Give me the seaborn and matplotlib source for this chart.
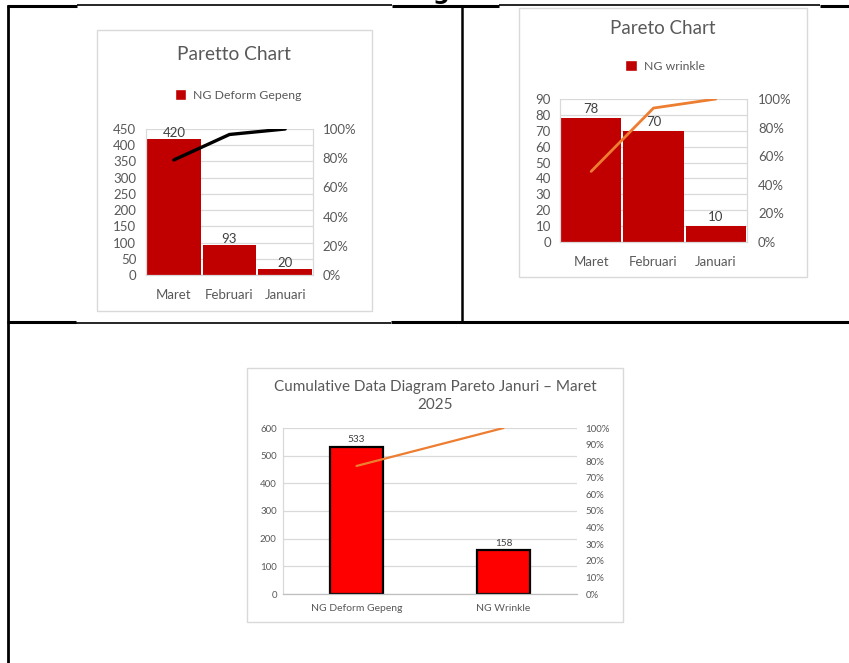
import numpy as np
import pandas as pd
import matplotlib
matplotlib.use("Agg")
import matplotlib.pyplot as plt
import seaborn as sns
from matplotlib.patches import Rectangle, Patch
from matplotlib.lines import Line2D
from matplotlib.ticker import PercentFormatter

# ---------------- data ----------------
months = ["Maret", "Februari", "Januari"]
deform_counts = [420, 93, 20]
wrinkle_counts = [78, 70, 10]
defect_types = ["NG Deform Gepeng", "NG Wrinkle"]
defect_totals = [533, 158]

title1 = "Paretto Chart"
title2 = "Pareto Chart"
title3 = "Cumulative Data Diagram Pareto Januri – Maret\n2025"
legend1 = "NG Deform Gepeng"
legend2 = "NG wrinkle"

# ---------------- setup ----------------
W, H = 849, 663
sns.set_theme(style="white")
plt.rcParams["font.family"] = ["Lato", "DejaVu Sans"]
TXT = "#595959"
GRID = "#D9D9D9"

fig = plt.figure(figsize=(W / 100, H / 100), dpi=100)
fig.patch.set_facecolor("white")


def fx(x):
    return x / W


def fy(y):
    return 1 - y / H


def px_axes(l, t, r, b):
    return fig.add_axes([fx(l), fy(b), (r - l) / W, (b - t) / H])


def line(x0, y0, x1, y1, lw):
    fig.add_artist(Line2D([fx(x0), fx(x1)], [fy(y0), fy(y1)], color="black", lw=lw,
                          transform=fig.transFigure, solid_capstyle="butt", zorder=-1))


def box(l, t, r, b):
    fig.add_artist(Rectangle((fx(l), fy(b)), (r - l) / W, (b - t) / H, transform=fig.transFigure,
                             facecolor="white", edgecolor=GRID, lw=1.0, zorder=-2))


# ---------------- table lines ----------------
# top border
line(7, 6, 77, 6, 2.2)
line(77, 5, 392, 5, 1.2)
line(392, 6, 499, 6, 2.2)
line(499, 5, 820, 5, 1.2)
line(820, 6, 849, 6, 2.2)
# middle horizontal
line(7, 322, 76, 322, 2.2)
line(76, 323, 391, 323, 1.2)
line(391, 322, 849, 322, 2.2)
# verticals
line(8, 5, 8, 663, 2.0)
line(462, 5, 462, 322, 1.8)

# cut-off heading glyph at the very top (only its descender shows, as in the reference)
fig.text(fx(433), fy(-1), "g", fontsize=17, fontweight="bold", color="black",
         ha="left", va="baseline", family=["DejaVu Sans"])


def pareto(ax, cats, vals, bar_color, line_color, line_w, ymax, ystep, pct_step,
           bar_width, tick_fs, label_fs, lpad, rpad, xpad, label_pad,
           edgecolor=None, edge_w=0.0, right_spine=True, xtick_fs=None):
    df = pd.DataFrame({"cat": cats, "val": vals})
    sns.barplot(data=df, x="cat", y="val", color=bar_color, saturation=1,
                width=bar_width, edgecolor=edgecolor if edgecolor else bar_color,
                linewidth=edge_w, ax=ax, zorder=2)
    ax.set_axisbelow(True)
    ax.set_ylim(0, ymax)
    ax.set_yticks(np.arange(0, ymax + 1, ystep))
    ax.set_xlim(-0.5, len(cats) - 0.5)
    ax.grid(axis="y", color=GRID, lw=0.9)
    ax.grid(axis="x", visible=False)
    ax.set_xlabel("")
    ax.set_ylabel("")
    ax.tick_params(axis="y", length=0, pad=lpad, labelsize=tick_fs, labelcolor=TXT)
    ax.tick_params(axis="x", length=0, pad=xpad, labelsize=xtick_fs or tick_fs, labelcolor=TXT)
    for s in ["left", "bottom", "right", "top"]:
        ax.spines[s].set_color(GRID)
        ax.spines[s].set_linewidth(0.9)
    ax.spines["top"].set_visible(False)
    ax.spines["right"].set_visible(right_spine)
    ax.bar_label(ax.containers[0], padding=label_pad, fontsize=label_fs, color="#404040")

    cum = np.cumsum(vals) / np.sum(vals)
    ax2 = ax.twinx()
    sns.lineplot(x=list(cats), y=cum, ax=ax2, color=line_color, lw=line_w, sort=False,
                 zorder=3)
    ax2.set_ylim(0, 1)
    ax2.set_yticks(np.arange(0, 1.0001, pct_step))
    ax2.yaxis.set_major_formatter(PercentFormatter(1.0, decimals=0))
    ax2.set_ylabel("")
    ax2.set_xlim(-0.5, len(cats) - 0.5)
    ax2.tick_params(axis="y", length=0, pad=rpad, labelsize=tick_fs, labelcolor=TXT)
    for s in ax2.spines.values():
        s.set_visible(False)
    ax2.grid(False)
    return ax, ax2


# ---------------- chart 1 ----------------
box(97, 30, 372, 311)
fig.text(fx(234), fy(54), title1, ha="center", va="center", fontsize=13.8, color=TXT)
ax1 = px_axes(146, 129, 313, 275)
pareto(ax1, months, deform_counts, "#C00000", "black", 2.4, 450, 50, 0.2,
       0.97, 9.5, 9.5, 7, 7, 10, 0)
fig.legend(handles=[Patch(facecolor="#C00000")], labels=[legend1], loc="center",
           bbox_to_anchor=(fx(238), fy(95)), frameon=False, fontsize=8.8,
           handlelength=0.95, handleheight=0.95, handletextpad=0.55, labelcolor=TXT)

# ---------------- chart 2 ----------------
box(519, 8, 807, 277)
fig.text(fx(663), fy(29), title2, ha="center", va="center", fontsize=13.5, color=TXT)
ax2 = px_axes(560, 99, 747, 242)
pareto(ax2, months, wrinkle_counts, "#C00000", "#ED7D31", 2.0, 90, 10, 0.2,
       0.97, 9.5, 9.5, 6.5, 8, 10, 2)
fig.legend(handles=[Patch(facecolor="#C00000")], labels=[legend2], loc="center",
           bbox_to_anchor=(fx(665), fy(66)), frameon=False, fontsize=8.8,
           handlelength=0.95, handleheight=0.95, handletextpad=0.55, labelcolor=TXT)

# ---------------- chart 3 ----------------
box(247, 368, 623, 622)
fig.text(fx(435), fy(396), title3, ha="center", va="center", fontsize=11, color=TXT,
         linespacing=1.45)
ax3 = px_axes(283, 428, 577, 594)
pareto(ax3, defect_types, defect_totals, "#FF0000", "#ED7D31", 1.6, 600, 100, 0.1,
       0.355, 7.0, 7.2, 4.5, 6, 7, 1.5, edgecolor="black", edge_w=1.6, right_spine=False,
       xtick_fs=7.5)
ax3.spines["bottom"].set_color("#BFBFBF")

fig.savefig("out.png", dpi=100)
